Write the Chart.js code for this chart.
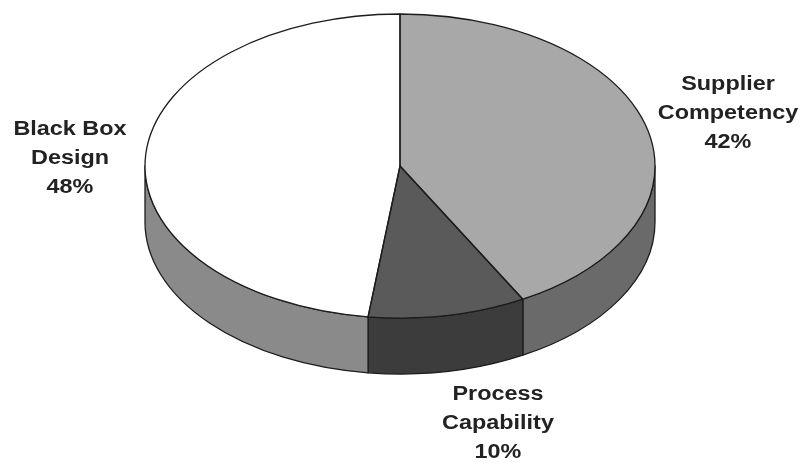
<!DOCTYPE html>
<html>
<head>
<meta charset="utf-8">
<script src="https://cdn.jsdelivr.net/npm/chart.js@4.4.1/dist/chart.umd.min.js"></script>
<style>
  html, body { margin: 0; padding: 0; background: #ffffff; }
  canvas { display: block; }
</style>
</head>
<body>
<canvas id="pie" width="802" height="463"></canvas>
<script>
// Slice data, clockwise from twelve o'clock
const categories = ['Supplier Competency', 'Process Capability', 'Black Box Design'];
const labelLines = [['Supplier', 'Competency'], ['Process', 'Capability'], ['Black Box', 'Design']];
const shares = [42, 10, 48];

// Face and wall shades
const topColors = ['#a8a8a8', '#5a5a5a', '#ffffff'];
const sideColors = ['#6a6a6a', '#3c3c3c', '#8a8a8a'];

// Disc projection: vertical squash of the top face and wall height (px)
const TILT = 152 / 255;
const DEPTH = 56;

// First-line baseline of each label block
const labelAnchors = [[728, 89.5], [498, 399.5], [70, 135]];
const LINE_GAP = 29;
const TEXT_STRETCH = 1.17;

const pie3d = {
  id: 'pie3d',
  beforeDatasetsDraw(chart) {
    const ctx = chart.ctx;
    const arcs = chart.getDatasetMeta(0).data;
    const cx = arcs[0].x, cy = arcs[0].y, rx = arcs[0].outerRadius;
    const ry = rx * TILT;
    ctx.save();
    ctx.lineWidth = 1.3;
    ctx.strokeStyle = '#1c1c1c';
    ctx.lineJoin = 'round';
    // walls are only visible on the front half (angles 0..PI)
    arcs.forEach((arc, i) => {
      const s = arc.startAngle, e = arc.endAngle;
      [0, 2 * Math.PI, -2 * Math.PI].forEach(off => {
        const a0 = Math.max(s, off), a1 = Math.min(e, off + Math.PI);
        if (a1 <= a0) return;
        ctx.beginPath();
        ctx.ellipse(cx, cy, rx, ry, 0, a0, a1);
        ctx.ellipse(cx, cy + DEPTH, rx, ry, 0, a1, a0, true);
        ctx.closePath();
        ctx.fillStyle = sideColors[i];
        ctx.fill();
        ctx.stroke();
      });
    });
    ctx.restore();
    // squash the library's own slices into the tilted top face
    ctx.save();
    ctx.translate(cx, cy);
    ctx.scale(1, TILT);
    ctx.translate(-cx, -cy);
  },
  afterDatasetsDraw(chart) {
    const ctx = chart.ctx;
    ctx.restore();
    const arcs = chart.getDatasetMeta(0).data;
    const cx = arcs[0].x, cy = arcs[0].y, rx = arcs[0].outerRadius;
    const ry = rx * TILT;
    ctx.save();
    ctx.lineWidth = 1.3;
    ctx.strokeStyle = '#1c1c1c';
    ctx.lineJoin = 'round';
    arcs.forEach(arc => {
      ctx.beginPath();
      ctx.moveTo(cx, cy);
      ctx.ellipse(cx, cy, rx, ry, 0, arc.startAngle, arc.endAngle);
      ctx.closePath();
      ctx.stroke();
    });
    // slice labels
    ctx.fillStyle = '#222222';
    ctx.font = 'bold 20px "Liberation Sans", Arial, sans-serif';
    ctx.textAlign = 'center';
    ctx.textBaseline = 'alphabetic';
    categories.forEach((name, i) => {
      const lines = labelLines[i].concat([shares[i] + '%']);
      const [lx, ly] = labelAnchors[i];
      lines.forEach((t, k) => {
        ctx.save();
        ctx.translate(lx, ly + k * LINE_GAP);
        ctx.scale(TEXT_STRETCH, 1);
        ctx.fillText(t, 0, 0);
        ctx.restore();
      });
    });
    ctx.restore();
  }
};

new Chart(document.getElementById('pie'), {
  type: 'pie',
  data: {
    labels: categories,
    datasets: [{
      data: shares,
      backgroundColor: topColors,
      borderWidth: 0,
      clip: false
    }]
  },
  options: {
    responsive: false,
    animation: false,
    events: [],
    radius: 255,
    layout: { padding: { left: 0, right: 2, top: 0, bottom: 131 } },
    plugins: {
      legend: { display: false },
      tooltip: { enabled: false }
    }
  },
  plugins: [pie3d]
});
</script>
</body>
</html>
